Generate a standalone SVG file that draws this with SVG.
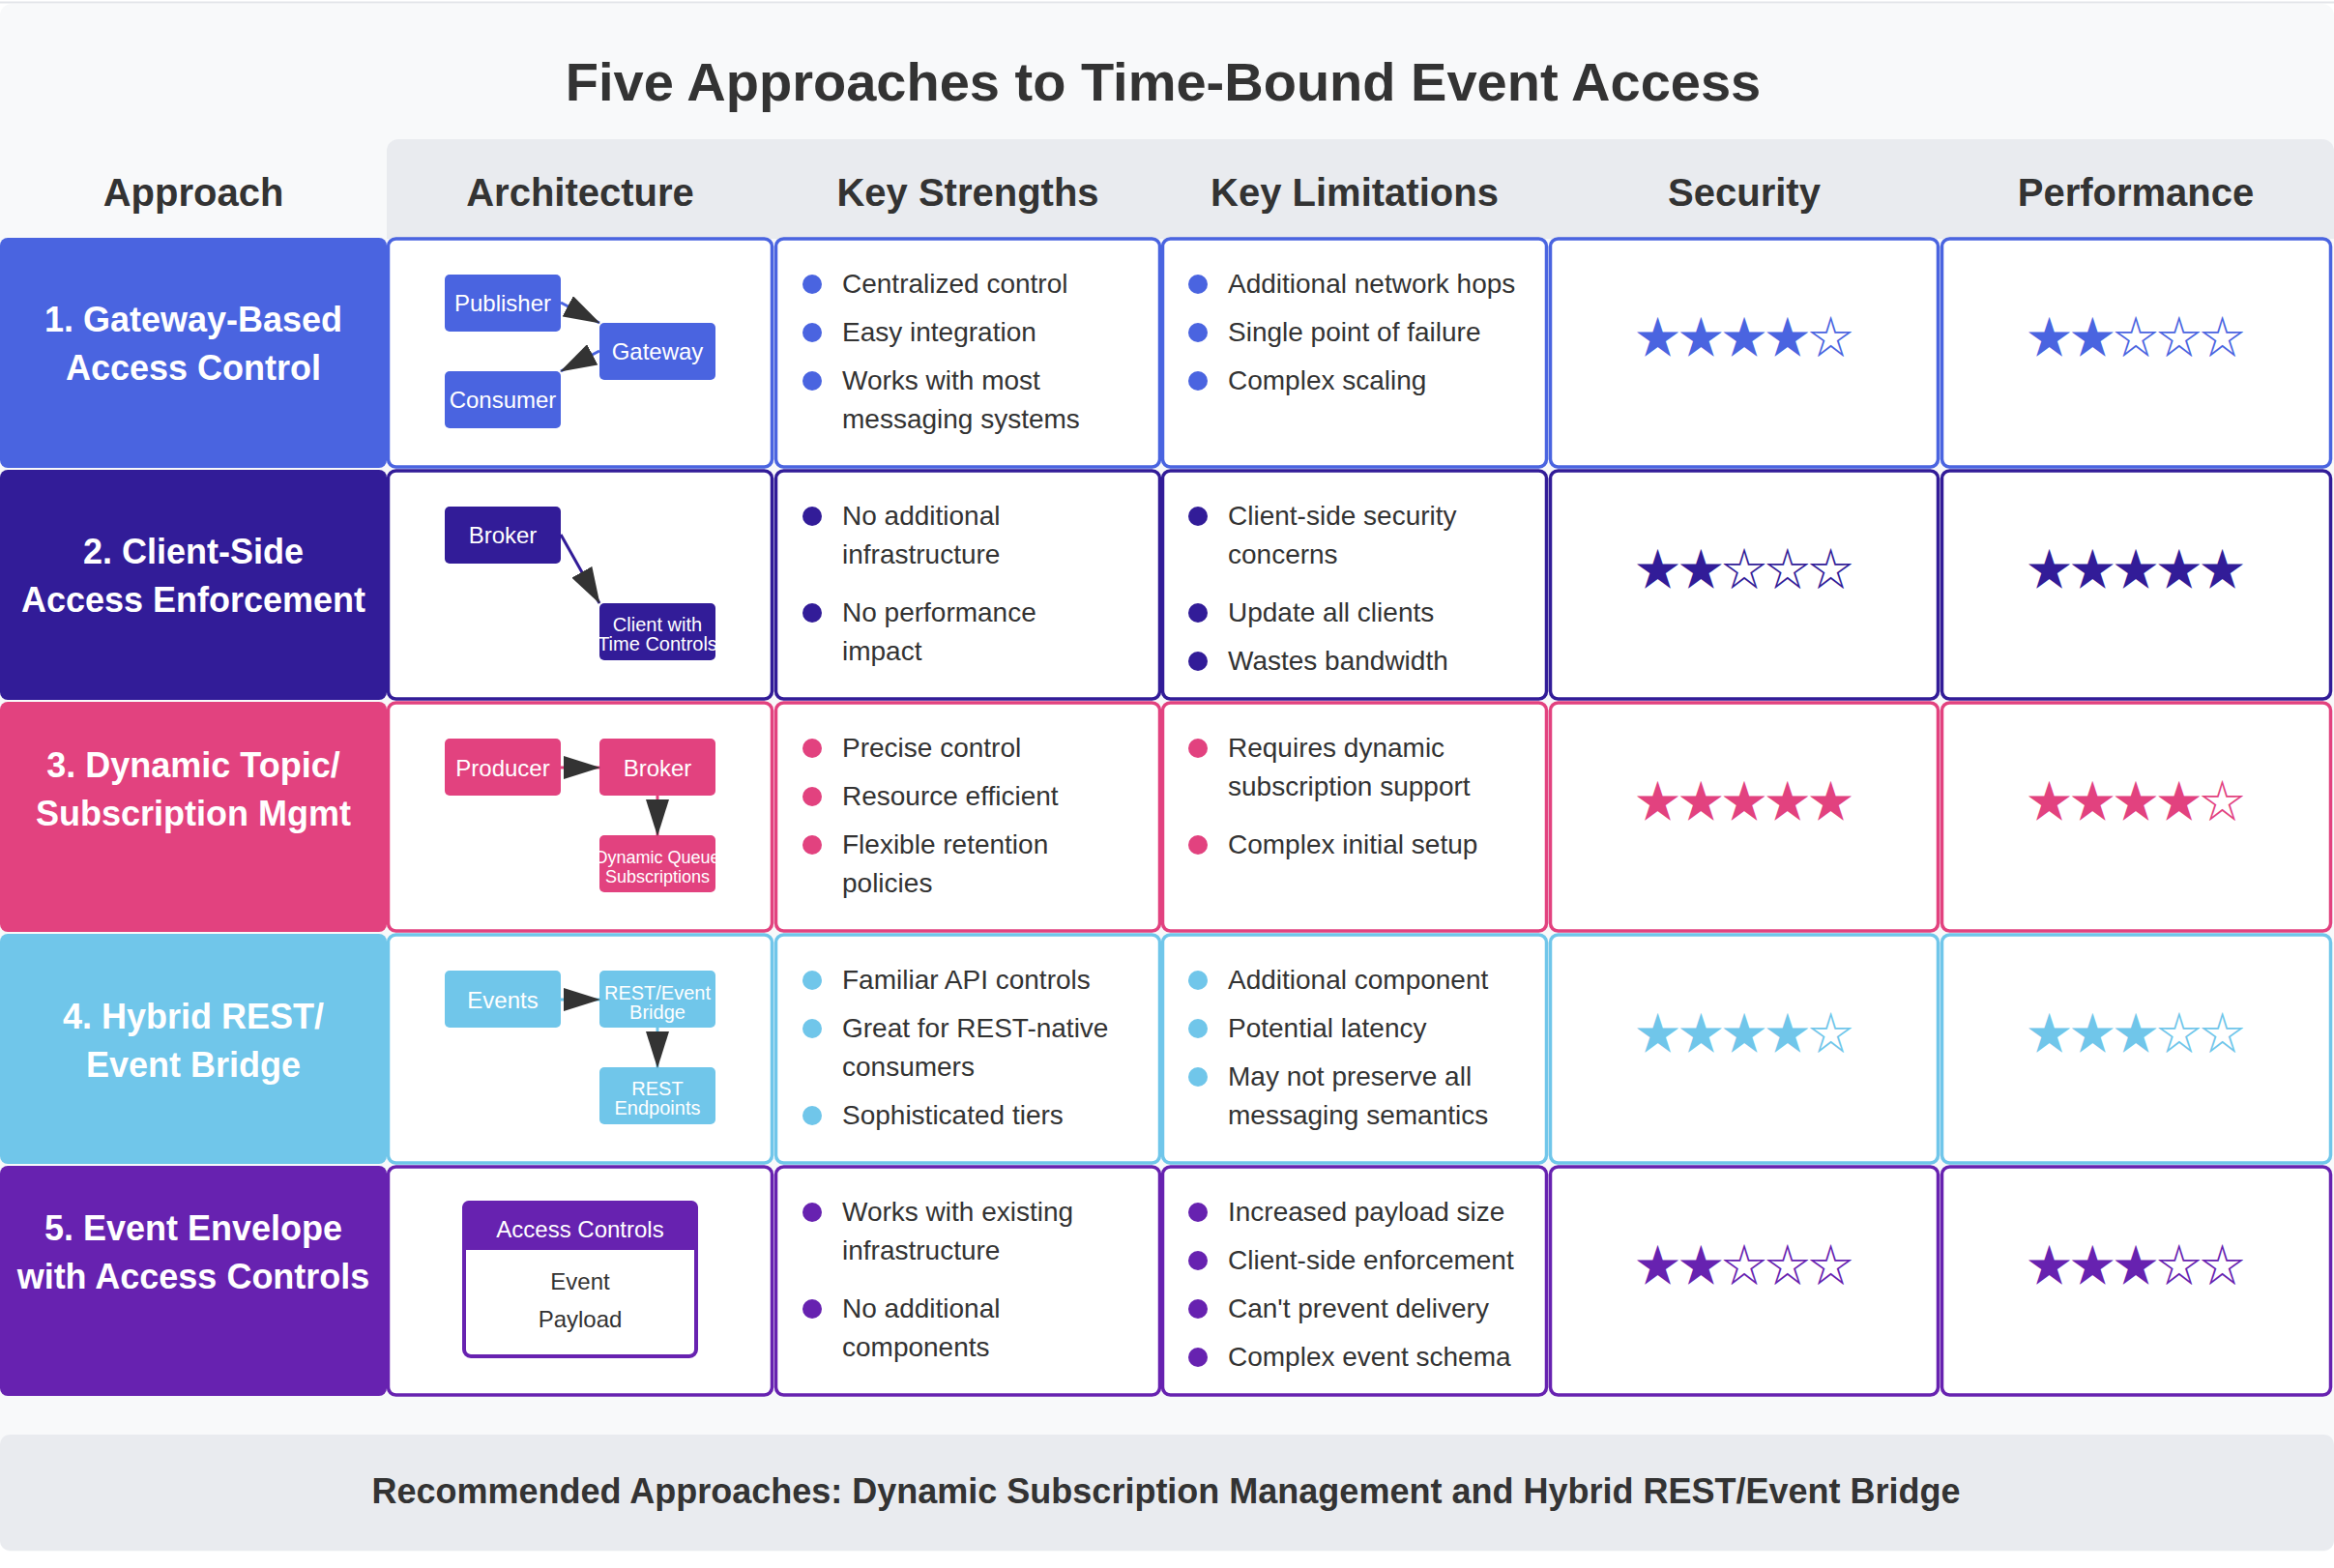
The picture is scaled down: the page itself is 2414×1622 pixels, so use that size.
<svg xmlns="http://www.w3.org/2000/svg" width="2414" height="1622" viewBox="0 0 2414 1622">
<defs>
<style>
text{font-family:"Liberation Sans",Arial,Helvetica,sans-serif;}
.title{font-size:56px;font-weight:bold;fill:#333;text-anchor:middle;}
.hdr{font-size:40px;font-weight:bold;fill:#333;text-anchor:middle;}
.lbl{font-size:36px;font-weight:bold;fill:#fff;text-anchor:middle;}
.li{font-size:28px;fill:#333;}
.bx{font-size:24px;fill:#fff;text-anchor:middle;}
.bxs{font-size:20px;fill:#fff;text-anchor:middle;}
.bxt{font-size:18px;fill:#fff;text-anchor:middle;}
.env{font-size:24px;fill:#333;text-anchor:middle;}
.foot{font-size:36px;font-weight:bold;fill:#333;text-anchor:middle;}
.star{font-family:"Noto Sans CJK JP","DejaVu Sans",sans-serif;font-size:46px;text-anchor:middle;dominant-baseline:central;}
.cell{fill:#fff;stroke-width:3.5;}
.c1{fill:#4a64e0;} .s1{stroke:#4a64e0;}
.c2{fill:#321c98;} .s2{stroke:#321c98;}
.c3{fill:#e2427f;} .s3{stroke:#e2427f;}
.c4{fill:#70c6ea;} .s4{stroke:#70c6ea;}
.c5{fill:#6722b0;} .s5{stroke:#6722b0;}
.conn{fill:none;stroke-width:3;}
</style>
<marker id="ah" markerUnits="userSpaceOnUse" markerWidth="38" markerHeight="24" refX="37" refY="12" orient="auto">
<path d="M0,0 L38,12 L0,24 Z" fill="#333"/>
</marker>
<clipPath id="clipClient"><rect x="620" y="624" width="120" height="59" rx="5"/></clipPath>
<clipPath id="clipQueue"><rect x="620" y="864" width="120" height="59" rx="5"/></clipPath>
</defs>

<!-- background -->
<rect x="0" y="0" width="2414" height="1622" fill="#ffffff"/>
<line x1="0" y1="2.5" x2="2414" y2="2.5" stroke="#e3e5e9" stroke-width="2"/>
<rect x="0" y="4" width="2414" height="1601" rx="12" fill="#f8f9fa"/>

<g id="title"><text class="title" x="1203" y="104">Five Approaches to Time-Bound Event Access</text></g>

<g id="header">
<path d="M400,156 a12,12 0 0 1 12,-12 H2402 a12,12 0 0 1 12,12 V247 H400 Z" fill="#e9ebef"/>
<text class="hdr" x="200" y="213">Approach</text>
<text class="hdr" x="600" y="213">Architecture</text>
<text class="hdr" x="1001" y="213">Key Strengths</text>
<text class="hdr" x="1401" y="213">Key Limitations</text>
<text class="hdr" x="1804" y="213">Security</text>
<text class="hdr" x="2209" y="213">Performance</text>
</g>

<!-- ROW 1 -->
<g id="row1">
<rect class="c1" x="0" y="246" width="400" height="238" rx="8"/>
<text class="lbl" x="200" y="343">1. Gateway-Based</text>
<text class="lbl" x="200" y="393">Access Control</text>
<rect class="cell s1" x="401.5" y="247" width="397" height="236" rx="8"/>
<rect class="cell s1" x="802.5" y="247" width="397" height="236" rx="8"/>
<rect class="cell s1" x="1202.5" y="247" width="397" height="236" rx="8"/>
<rect class="cell s1" x="1603.5" y="247" width="401" height="236" rx="8"/>
<rect class="cell s1" x="2008.5" y="247" width="402" height="236" rx="8"/>
<g class="c1"><circle cx="840" cy="294" r="10"/><circle cx="840" cy="344" r="10"/><circle cx="840" cy="394" r="10"/>
<circle cx="1239" cy="294" r="10"/><circle cx="1239" cy="344" r="10"/><circle cx="1239" cy="394" r="10"/></g>
<text class="li" x="871" y="303">Centralized control</text>
<text class="li" x="871" y="353">Easy integration</text>
<text class="li" x="871" y="403">Works with most</text>
<text class="li" x="871" y="443">messaging systems</text>
<text class="li" x="1270" y="303">Additional network hops</text>
<text class="li" x="1270" y="353">Single point of failure</text>
<text class="li" x="1270" y="403">Complex scaling</text>
<text class="star c1" x="1804" y="345" textLength="225" lengthAdjust="spacing">★★★★☆</text>
<text class="star c1" x="2209" y="345" textLength="225" lengthAdjust="spacing">★★☆☆☆</text>
</g>
<g id="node-publisher"><rect class="c1" x="460" y="284" width="120" height="59" rx="5"/><text class="bx" x="520" y="322">Publisher</text></g>
<g id="node-gateway"><rect class="c1" x="620" y="334" width="120" height="59" rx="5"/><text class="bx" x="680" y="372">Gateway</text></g>
<g id="node-consumer"><rect class="c1" x="460" y="384" width="120" height="59" rx="5"/><text class="bx" x="520" y="422">Consumer</text></g>

<!-- ROW 2 -->
<g id="row2">
<rect class="c2" x="0" y="486" width="400" height="238" rx="8"/>
<text class="lbl" x="200" y="583">2. Client-Side</text>
<text class="lbl" x="200" y="633">Access Enforcement</text>
<rect class="cell s2" x="401.5" y="487" width="397" height="236" rx="8"/>
<rect class="cell s2" x="802.5" y="487" width="397" height="236" rx="8"/>
<rect class="cell s2" x="1202.5" y="487" width="397" height="236" rx="8"/>
<rect class="cell s2" x="1603.5" y="487" width="401" height="236" rx="8"/>
<rect class="cell s2" x="2008.5" y="487" width="402" height="236" rx="8"/>
<g class="c2"><circle cx="840" cy="534" r="10"/><circle cx="840" cy="634" r="10"/>
<circle cx="1239" cy="534" r="10"/><circle cx="1239" cy="634" r="10"/><circle cx="1239" cy="684" r="10"/></g>
<text class="li" x="871" y="543">No additional</text>
<text class="li" x="871" y="583">infrastructure</text>
<text class="li" x="871" y="643">No performance</text>
<text class="li" x="871" y="683">impact</text>
<text class="li" x="1270" y="543">Client-side security</text>
<text class="li" x="1270" y="583">concerns</text>
<text class="li" x="1270" y="643">Update all clients</text>
<text class="li" x="1270" y="693">Wastes bandwidth</text>
<text class="star c2" x="1804" y="585" textLength="225" lengthAdjust="spacing">★★☆☆☆</text>
<text class="star c2" x="2209" y="585" textLength="225" lengthAdjust="spacing">★★★★★</text>
</g>
<g id="node-broker1"><rect class="c2" x="460" y="524" width="120" height="59" rx="5"/><text class="bx" x="520" y="562">Broker</text></g>
<g id="node-client"><rect class="c2" x="620" y="624" width="120" height="59" rx="5"/>
<g clip-path="url(#clipClient)"><text class="bxs" x="680" y="653">Client with</text><text class="bxs" x="680" y="673">Time Controls</text></g></g>

<!-- ROW 3 -->
<g id="row3">
<rect class="c3" x="0" y="726" width="400" height="238" rx="8"/>
<text class="lbl" x="200" y="804">3. Dynamic Topic/</text>
<text class="lbl" x="200" y="854">Subscription Mgmt</text>
<rect class="cell s3" x="401.5" y="727" width="397" height="236" rx="8"/>
<rect class="cell s3" x="802.5" y="727" width="397" height="236" rx="8"/>
<rect class="cell s3" x="1202.5" y="727" width="397" height="236" rx="8"/>
<rect class="cell s3" x="1603.5" y="727" width="401" height="236" rx="8"/>
<rect class="cell s3" x="2008.5" y="727" width="402" height="236" rx="8"/>
<g class="c3"><circle cx="840" cy="774" r="10"/><circle cx="840" cy="824" r="10"/><circle cx="840" cy="874" r="10"/>
<circle cx="1239" cy="774" r="10"/><circle cx="1239" cy="874" r="10"/></g>
<text class="li" x="871" y="783">Precise control</text>
<text class="li" x="871" y="833">Resource efficient</text>
<text class="li" x="871" y="883">Flexible retention</text>
<text class="li" x="871" y="923">policies</text>
<text class="li" x="1270" y="783">Requires dynamic</text>
<text class="li" x="1270" y="823">subscription support</text>
<text class="li" x="1270" y="883">Complex initial setup</text>
<text class="star c3" x="1804" y="825" textLength="225" lengthAdjust="spacing">★★★★★</text>
<text class="star c3" x="2209" y="825" textLength="225" lengthAdjust="spacing">★★★★☆</text>
</g>
<g id="node-producer"><rect class="c3" x="460" y="764" width="120" height="59" rx="5"/><text class="bx" x="520" y="803">Producer</text></g>
<g id="node-broker2"><rect class="c3" x="620" y="764" width="120" height="59" rx="5"/><text class="bx" x="680" y="803">Broker</text></g>
<g id="node-queue"><rect class="c3" x="620" y="864" width="120" height="59" rx="5"/>
<g clip-path="url(#clipQueue)"><text class="bxt" x="680" y="893">Dynamic Queue</text><text class="bxt" x="680" y="913">Subscriptions</text></g></g>

<!-- ROW 4 -->
<g id="row4">
<rect class="c4" x="0" y="966" width="400" height="238" rx="8"/>
<text class="lbl" x="200" y="1064">4. Hybrid REST/</text>
<text class="lbl" x="200" y="1114">Event Bridge</text>
<rect class="cell s4" x="401.5" y="967" width="397" height="236" rx="8"/>
<rect class="cell s4" x="802.5" y="967" width="397" height="236" rx="8"/>
<rect class="cell s4" x="1202.5" y="967" width="397" height="236" rx="8"/>
<rect class="cell s4" x="1603.5" y="967" width="401" height="236" rx="8"/>
<rect class="cell s4" x="2008.5" y="967" width="402" height="236" rx="8"/>
<g class="c4"><circle cx="840" cy="1014" r="10"/><circle cx="840" cy="1064" r="10"/><circle cx="840" cy="1154" r="10"/>
<circle cx="1239" cy="1014" r="10"/><circle cx="1239" cy="1064" r="10"/><circle cx="1239" cy="1114" r="10"/></g>
<text class="li" x="871" y="1023">Familiar API controls</text>
<text class="li" x="871" y="1073">Great for REST-native</text>
<text class="li" x="871" y="1113">consumers</text>
<text class="li" x="871" y="1163">Sophisticated tiers</text>
<text class="li" x="1270" y="1023">Additional component</text>
<text class="li" x="1270" y="1073">Potential latency</text>
<text class="li" x="1270" y="1123">May not preserve all</text>
<text class="li" x="1270" y="1163">messaging semantics</text>
<text class="star c4" x="1804" y="1065" textLength="225" lengthAdjust="spacing">★★★★☆</text>
<text class="star c4" x="2209" y="1065" textLength="225" lengthAdjust="spacing">★★★☆☆</text>
</g>
<g id="node-events"><rect class="c4" x="460" y="1004" width="120" height="59" rx="5"/><text class="bx" x="520" y="1043">Events</text></g>
<g id="node-bridge"><rect class="c4" x="620" y="1004" width="120" height="59" rx="5"/><text class="bxs" x="680" y="1034">REST/Event</text><text class="bxs" x="680" y="1054">Bridge</text></g>
<g id="node-endpoints"><rect class="c4" x="620" y="1104" width="120" height="59" rx="5"/><text class="bxs" x="680" y="1133">REST</text><text class="bxs" x="680" y="1153">Endpoints</text></g>

<!-- ROW 5 -->
<g id="row5">
<rect class="c5" x="0" y="1206" width="400" height="238" rx="8"/>
<text class="lbl" x="200" y="1283">5. Event Envelope</text>
<text class="lbl" x="200" y="1333">with Access Controls</text>
<rect class="cell s5" x="401.5" y="1207" width="397" height="236" rx="8"/>
<rect class="cell s5" x="802.5" y="1207" width="397" height="236" rx="8"/>
<rect class="cell s5" x="1202.5" y="1207" width="397" height="236" rx="8"/>
<rect class="cell s5" x="1603.5" y="1207" width="401" height="236" rx="8"/>
<rect class="cell s5" x="2008.5" y="1207" width="402" height="236" rx="8"/>
<g class="c5"><circle cx="840" cy="1254" r="10"/><circle cx="840" cy="1354" r="10"/>
<circle cx="1239" cy="1254" r="10"/><circle cx="1239" cy="1304" r="10"/><circle cx="1239" cy="1354" r="10"/><circle cx="1239" cy="1404" r="10"/></g>
<text class="li" x="871" y="1263">Works with existing</text>
<text class="li" x="871" y="1303">infrastructure</text>
<text class="li" x="871" y="1363">No additional</text>
<text class="li" x="871" y="1403">components</text>
<text class="li" x="1270" y="1263">Increased payload size</text>
<text class="li" x="1270" y="1313">Client-side enforcement</text>
<text class="li" x="1270" y="1363">Can't prevent delivery</text>
<text class="li" x="1270" y="1413">Complex event schema</text>
<text class="star c5" x="1804" y="1305" textLength="225" lengthAdjust="spacing">★★☆☆☆</text>
<text class="star c5" x="2209" y="1305" textLength="225" lengthAdjust="spacing">★★★☆☆</text>
</g>
<g id="node-envelope">
<rect x="480" y="1244" width="240" height="159" rx="7" fill="#fff" stroke="#6722b0" stroke-width="4"/>
<path class="c5" d="M478,1293 V1249 a7,7 0 0 1 7,-7 H715 a7,7 0 0 1 7,7 V1293 Z"/>
<text class="bx" x="600" y="1280">Access Controls</text>
<text class="env" x="600" y="1334">Event</text>
<text class="env" x="600" y="1373">Payload</text>
</g>

<g id="connectors">
<line class="conn s1" x1="580" y1="313" x2="620" y2="334" marker-end="url(#ah)"/>
<line class="conn s1" x1="620" y1="363" x2="580" y2="384" marker-end="url(#ah)"/>
<line class="conn s2" x1="580" y1="553" x2="620" y2="624" marker-end="url(#ah)"/>
<line class="conn s3" x1="580" y1="794" x2="620" y2="794" marker-end="url(#ah)"/>
<line class="conn s3" x1="680" y1="823" x2="680" y2="864" marker-end="url(#ah)"/>
<line class="conn s4" x1="580" y1="1034" x2="620" y2="1034" marker-end="url(#ah)"/>
<line class="conn s4" x1="680" y1="1063" x2="680" y2="1104" marker-end="url(#ah)"/>
</g>

<g id="footer">
<rect x="0" y="1484" width="2414" height="120" rx="10" fill="#e9ebef"/>
<text class="foot" x="1206" y="1555">Recommended Approaches: Dynamic Subscription Management and Hybrid REST/Event Bridge</text>
</g>
</svg>
